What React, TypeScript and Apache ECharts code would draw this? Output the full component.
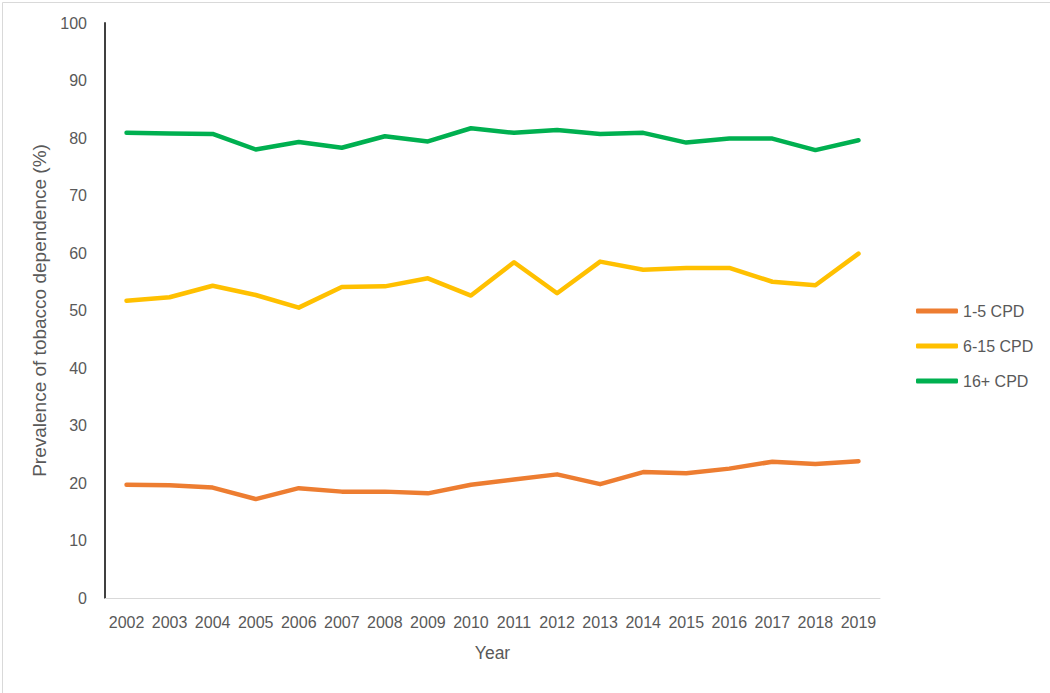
import React, { useEffect, useRef } from "react";
import * as echarts from "echarts";

const years = ["2002","2003","2004","2005","2006","2007","2008","2009","2010","2011","2012","2013","2014","2015","2016","2017","2018","2019"];
const cpd1to5 = [19.7, 19.6, 19.2, 17.2, 19.1, 18.5, 18.5, 18.2, 19.7, 20.6, 21.5, 19.8, 21.9, 21.7, 22.5, 23.7, 23.3, 23.8];
const cpd6to15 = [51.7, 52.3, 54.3, 52.7, 50.5, 54.1, 54.2, 55.6, 52.6, 58.4, 53.0, 58.5, 57.1, 57.4, 57.4, 55.0, 54.4, 59.9];
const cpd16plus = [80.9, 80.8, 80.7, 78.0, 79.3, 78.3, 80.3, 79.4, 81.7, 80.9, 81.4, 80.7, 80.9, 79.2, 79.9, 79.9, 77.9, 79.6];

const FONT = "'Liberation Sans', Arial, sans-serif";
const TEXT = "#595959";

export default function App() {
  const ref = useRef<HTMLDivElement>(null);
  useEffect(() => {
    const chart = echarts.init(ref.current!, undefined, { renderer: "svg" });
    const mk = (name: string, data: number[], color: string) => ({
      name,
      type: "line",
      data,
      symbol: "none",
      lineStyle: { color, width: 4.5, cap: "round", join: "round" },
      itemStyle: { color },
    });
    chart.setOption({
      animation: false,
      backgroundColor: "#ffffff",
      textStyle: { fontFamily: FONT },
      graphic: [
        {
          type: "rect",
          left: 0,
          top: 0,
          shape: { x: 0.5, y: 0.5, width: 1048, height: 691 },
          style: { fill: "none", stroke: "#d9d9d9", lineWidth: 1 },
          silent: true,
        },
      ],
      grid: { left: 105, right: 170, top: 23, bottom: 95, containLabel: false },
      legend: {
        orient: "vertical",
        left: 911,
        top: 298,
        itemWidth: 42,
        itemHeight: 5,
        itemGap: 19,
        icon: "roundRect",
        textStyle: { color: TEXT, fontSize: 16, fontFamily: FONT },
        data: ["1-5 CPD", "6-15 CPD", "16+ CPD"],
      },
      xAxis: {
        type: "category",
        data: years,
        boundaryGap: true,
        name: "Year",
        nameLocation: "middle",
        nameGap: 46,
        nameTextStyle: { color: TEXT, fontSize: 17.5, fontFamily: FONT },
        axisLine: { lineStyle: { color: "#d9d9d9", width: 1 } },
        axisTick: { show: false },
        axisLabel: { color: TEXT, fontSize: 16, margin: 16, fontFamily: FONT, interval: 0 },
      },
      yAxis: {
        type: "value",
        min: 0,
        max: 100,
        interval: 10,
        name: "Prevalence of tobacco dependence (%)",
        nameLocation: "middle",
        nameGap: 52,
        nameRotate: 90,
        nameTextStyle: { color: TEXT, fontSize: 19, fontFamily: FONT },
        axisLine: { show: true, lineStyle: { color: "#404040", width: 2 } },
        axisTick: { show: false },
        splitLine: { show: false },
        axisLabel: { color: TEXT, fontSize: 16, margin: 18, fontFamily: FONT },
      },
      series: [
        mk("1-5 CPD", cpd1to5, "#ED7D31"),
        mk("6-15 CPD", cpd6to15, "#FFC000"),
        mk("16+ CPD", cpd16plus, "#00B050"),
      ],
    });
    return () => chart.dispose();
  }, []);
  return (
    <div
      ref={ref}
      style={{ position: "fixed", left: 0, top: 0, width: 1050, height: 693 }}
    />
  );
}
